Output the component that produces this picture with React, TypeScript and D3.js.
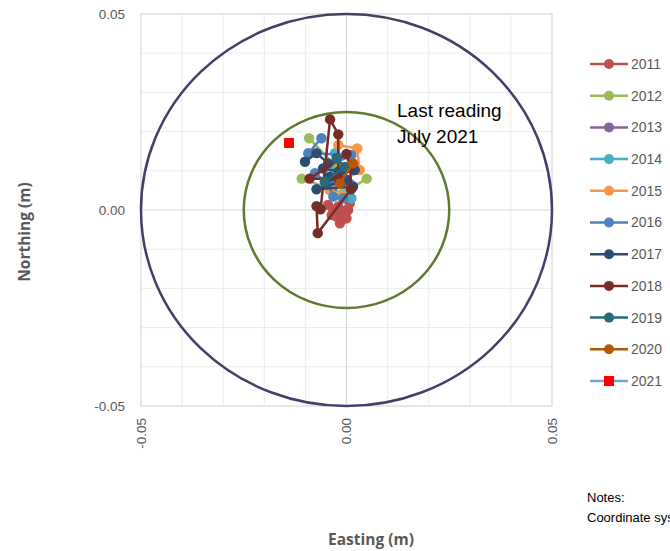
import React from "react";
import * as d3 from "d3";

type Pt = [number, number];

const years = ["2011", "2012", "2013", "2014", "2015", "2016", "2017", "2018", "2019", "2020", "2021"];
const lineColors = ["#C0504D", "#9BBB59", "#8064A2", "#4BACC6", "#F79646", "#4F81BD", "#2C4D75", "#772C2A", "#276A7C", "#B65708", "#7BA0D6"];
const markerColors = ["#C0504D", "#9BBB59", "#8064A2", "#4BACC6", "#F79646", "#4F81BD", "#2C4D75", "#772C2A", "#276A7C", "#B65708", "#FF0000"];

const s2011: Pt[] = [[-0.0045, 0.0013], [-0.0032, 0], [-0.002, 0.0009], [-0.0008, -0.0009], [0.0004, 0], [-0.0012, -0.0026], [-0.0024, -0.0017], [-0.0036, -0.0013], [0.0008, 0.0017], [-0.0016, -0.0034], [0, -0.0021]];
const s2012: Pt[] = [[-0.0091, 0.0183], [-0.0024, 0.011], [-0.0109, 0.008], [-0.0008, 0.0043], [0.0049, 0.008]];
const s2013: Pt[] = [[-0.0024, 0.0077], [-0.0012, 0.0094], [-0.0032, 0.006], [-0.0004, 0.0068]];
const s2014: Pt[] = [[-0.0028, 0.0145], [-0.0041, 0.0081], [0.0008, 0.0068], [0.0012, 0.003]];
const s2015: Pt[] = [[-0.002, 0.0166], [0.0026, 0.0157], [0.0032, 0.0102], [-0.0041, 0.0051], [-0.0012, 0.0034]];
const s2016: Pt[] = [[-0.0061, 0.0183], [-0.0093, 0.0145], [0.0012, 0.014], [-0.0077, 0.0094], [-0.0045, 0.0068], [-0.0032, 0.0034], [-0.0008, 0.003]];
const s2017: Pt[] = [[-0.0101, 0.0123], [-0.0073, 0.0145], [-0.0045, 0.0119], [-0.0057, 0.0106], [-0.002, 0.0098], [0.002, 0.0102], [-0.0041, 0.0085], [0, 0.0077], [-0.0073, 0.0053], [0.0016, 0.006]];
const s2018: Pt[] = [[-0.0063, 0.0002], [-0.004, 0.0231], [-0.002, 0.0193], [-0.002, 0.008], [-0.009, 0.008], [0.0, 0.0143], [0.0009, 0.011], [0.0011, 0.0053], [-0.007, -0.0059], [-0.0073, 0.001]];
const s2019: Pt[] = [[-0.0024, 0.0132], [-0.0004, 0.011], [-0.0053, 0.0072]];
const s2020: Pt[] = [[0.0016, 0.0119], [-0.0016, 0.0068]];
const s2021: Pt[] = [[-0.014, 0.0171]];
const seriesData: Pt[][] = [s2011, s2012, s2013, s2014, s2015, s2016, s2017, s2018, s2019, s2020, s2021];

const ringRadii = [0.05, 0.025];
const ringColors = ["#4A3B68", "#5F7A2E"];

const xTicks = [-0.05, 0, 0.05];
const yTicks = [-0.05, 0, 0.05];
const gridVals = [-0.04, -0.03, -0.02, -0.01, 0.01, 0.02, 0.03, 0.04];
const notes = ["Notes:", "Coordinate system: local grid"];

const fmt = (v: number) => d3.format(".2f")(v).replace("\u2212", "-");

export default function App() {
  const W = 670, H = 551;
  const left = 141, right = 552, top = 14, bottom = 406;
  const x = d3.scaleLinear().domain([-0.05, 0.05]).range([left, right]);
  const y = d3.scaleLinear().domain([-0.05, 0.05]).range([bottom, top]);
  const line = d3.line<Pt>().x((d) => x(d[0])).y((d) => y(d[1]));
  const font = "'Liberation Sans', Arial, sans-serif";
  const gray = "#595959";

  return (
    <svg width={W} height={H} style={{ position: "absolute", left: 0, top: 0, display: "block", background: "#fff" }}>
      <rect x={0} y={0} width={W} height={H} fill="#fff" />
      {gridVals.map((v) => (
        <line key={"gx" + v} x1={x(v)} x2={x(v)} y1={top} y2={bottom} stroke="#ECECEC" strokeWidth={1} />
      ))}
      {gridVals.map((v) => (
        <line key={"gy" + v} y1={y(v)} y2={y(v)} x1={left} x2={right} stroke="#ECECEC" strokeWidth={1} />
      ))}
      <line x1={x(0)} x2={x(0)} y1={top} y2={bottom} stroke="#D9D9D9" strokeWidth={1.2} />
      <line y1={y(0)} y2={y(0)} x1={left} x2={right} stroke="#D9D9D9" strokeWidth={1.2} />
      <rect x={left} y={top} width={right - left} height={bottom - top} fill="none" stroke="#D0D0D0" strokeWidth={1} />

      {ringRadii.map((r, i) => (
        <ellipse key={"ring" + i} cx={x(0)} cy={y(0)} rx={x(r) - x(0)} ry={y(0) - y(r)} fill="none" stroke={ringColors[i]} strokeWidth={2.5} />
      ))}

      {seriesData.map((pts, i) => (
        <g key={"s" + i}>
          <path d={line(pts) || ""} fill="none" stroke={lineColors[i]} strokeWidth={2.5} />
          {pts.map((p, j) =>
            years[i] === "2021" ? (
              <rect key={j} x={x(p[0]) - 5} y={y(p[1]) - 5} width={10} height={10} fill={markerColors[i]} />
            ) : (
              <circle key={j} cx={x(p[0])} cy={y(p[1])} r={5.2} fill={markerColors[i]} />
            )
          )}
        </g>
      ))}

      {yTicks.map((v) => (
        <text key={"yt" + v} x={125} y={y(v)} dy="0.35em" textAnchor="end" fontFamily={font} fontSize={13.5} fill={gray}>
          {fmt(v)}
        </text>
      ))}
      {xTicks.map((v) => (
        <text key={"xt" + v} transform={`translate(${x(v)},418) rotate(-90)`} dy="0.35em" textAnchor="end" fontFamily={font} fontSize={13.5} fill={gray}>
          {fmt(v)}
        </text>
      ))}

      <text x={371} y={545} textAnchor="middle" fontFamily="'Open Sans', sans-serif" fontWeight="bold" fontSize={15.5} fill={gray}>
        Easting (m)
      </text>
      <text transform={`translate(30,232) rotate(-90)`} textAnchor="middle" fontFamily="'Open Sans', sans-serif" fontWeight="bold" fontSize={15.5} fill={gray}>
        Northing (m)
      </text>

      <text x={397} y={117} fontFamily={font} fontSize={19} fill="#000">Last reading</text>
      <text x={397} y={143} fontFamily={font} fontSize={19} fill="#000">July 2021</text>

      {years.map((yr, i) => {
        const ly = 64 + i * 31.7;
        return (
          <g key={"lg" + yr}>
            <line x1={590} x2={628} y1={ly} y2={ly} stroke={lineColors[i]} strokeWidth={2.5} />
            {yr === "2021" ? (
              <rect x={604} y={ly - 5} width={10} height={10} fill={markerColors[i]} />
            ) : (
              <circle cx={609} cy={ly} r={5} fill={markerColors[i]} />
            )}
            <text x={631} y={ly} dy="0.35em" fontFamily={font} fontSize={14} fill={gray}>{yr}</text>
          </g>
        );
      })}

      {notes.map((t, i) => (
        <text key={"n" + i} x={587} y={502 + i * 19.5} fontFamily={font} fontSize={13} fill="#000">{t}</text>
      ))}
    </svg>
  );
}
